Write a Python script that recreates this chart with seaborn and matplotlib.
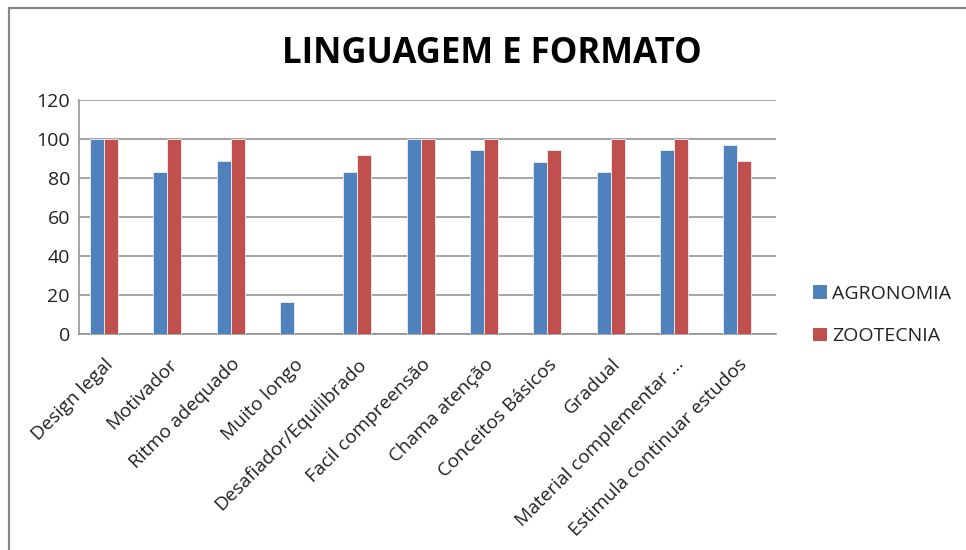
import matplotlib
matplotlib.use("Agg")
import matplotlib.pyplot as plt
import matplotlib.transforms as mtransforms
from matplotlib.lines import Line2D
from matplotlib.patches import Patch
import seaborn as sns
import pandas as pd

# Survey results: share of positive answers per item (%)
categories = [
    "Design legal", "Motivador", "Ritmo adequado", "Muito longo",
    "Desafiador/Equilibrado", "Facil compreensão", "Chama atenção",
    "Conceitos Básicos", "Gradual", "Material complementar ...",
    "Estimula continuar estudos",
]
agronomia = [100, 83.3, 88.9, 16.7, 83.3, 100, 94.4, 88.2, 83.3, 94.4, 97.2]
zootecnia = [100, 100, 100, 0, 91.7, 100, 100, 94.4, 100, 100, 88.9]
series_names = ["AGRONOMIA", "ZOOTECNIA"]
y_ticks = [0, 20, 40, 60, 80, 100, 120]
title = "LINGUAGEM E FORMATO"

colors = {"AGRONOMIA": "#4F81BD", "ZOOTECNIA": "#C0504D"}

df = pd.DataFrame({
    "categoria": categories * 2,
    "valor": agronomia + zootecnia,
    "curso": [series_names[0]] * len(categories) + [series_names[1]] * len(categories),
})

sns.set_style("white")
plt.rcParams["font.family"] = ["Open Sans", "DejaVu Sans"]

fig = plt.figure(figsize=(9.66, 5.5), dpi=100)
ax = fig.add_axes([0.0818, 0.392, 0.722, 0.426])

sns.barplot(
    data=df, x="categoria", y="valor", hue="curso", order=categories,
    hue_order=series_names, palette=colors, width=0.442, saturation=1,
    edgecolor="#EAEFF5", linewidth=0.6, ax=ax, legend=False, zorder=3,
)

ax.set_ylim(0, 120)
ax.set_xlim(-0.395, 10.62)
ax.set_yticks(y_ticks)
ax.set_yticklabels([str(v) for v in y_ticks])
ax.yaxis.grid(True, color="#8C8C8C", linewidth=1.1, zorder=0)
ax.xaxis.grid(False)
ax.set_axisbelow(True)
ax.set_xlabel("")
ax.set_ylabel("")

for side in ["top", "right"]:
    ax.spines[side].set_visible(False)
for side in ["left", "bottom"]:
    ax.spines[side].set_color("#8C8C8C")
    ax.spines[side].set_linewidth(1.1)

ax.tick_params(axis="y", length=0, pad=6.5, labelsize=14, colors="#222222")
ax.tick_params(axis="x", length=0, pad=15, labelsize=13.8, colors="#222222")
ax.set_xticks(range(len(categories)))
ax.set_xticklabels(categories, rotation=45, ha="right", va="top")
shift = mtransforms.ScaledTranslation(13 / 100, 0, fig.dpi_scale_trans)
for lbl in ax.get_xticklabels():
    lbl.set_transform(lbl.get_transform() + shift)

fig.text(0.509, 0.902, title, ha="center", va="center",
         fontsize=25, fontweight="bold", color="black")

handles = [Patch(facecolor=colors[n], edgecolor="none") for n in series_names]
fig.legend(handles, series_names, loc="center left",
           bbox_to_anchor=(0.8315, 0.427), frameon=False, fontsize=14,
           handlelength=0.7, handleheight=0.7, handletextpad=0.3,
           labelspacing=1.25, borderpad=0, labelcolor="#222222")

# chart area frame (left and top edges)
fig.add_artist(Line2D([0.0093, 0.0093], [0.0, 0.9855], color="#868686",
                      linewidth=1.6, transform=fig.transFigure))
fig.add_artist(Line2D([0.0093, 1.0], [0.9855, 0.9855], color="#868686",
                      linewidth=1.6, transform=fig.transFigure))

fig.savefig("out.png", dpi=100, facecolor="white")
